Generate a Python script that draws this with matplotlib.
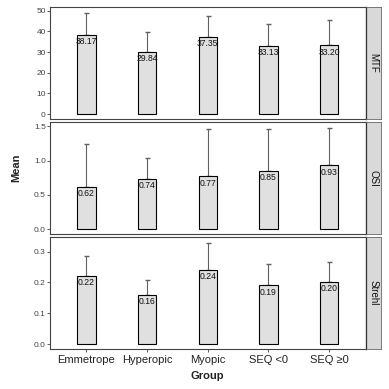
import matplotlib
matplotlib.use("Agg")
import matplotlib.pyplot as plt
import numpy as np

plt.rcParams['font.family'] = ['Liberation Sans', 'DejaVu Sans']

groups = ["Emmetrope", "Hyperopic", "Myopic", "SEQ <0", "SEQ \u22650"]
mtf_mean = [38.17, 29.84, 37.35, 33.13, 33.20]
mtf_upper = [48.7, 39.7, 47.6, 43.4, 45.5]
osi_mean = [0.62, 0.74, 0.77, 0.85, 0.93]
osi_upper = [1.247, 1.04, 1.466, 1.46, 1.477]
strehl_mean = [0.22, 0.16, 0.24, 0.19, 0.20]
strehl_upper = [0.284, 0.208, 0.329, 0.259, 0.267]

panels = [
    ("MTF", mtf_mean, mtf_upper, (-2.4, 51.8), [0, 10, 20, 30, 40, 50], "{:.0f}"),
    ("OSI", osi_mean, osi_upper, (-0.069, 1.564), [0.0, 0.5, 1.0, 1.5], "{:.1f}"),
    ("Strehl", strehl_mean, strehl_upper, (-0.016, 0.347), [0.0, 0.1, 0.2, 0.3], "{:.1f}"),
]

W = H = 389
fig = plt.figure(figsize=(W / 100, H / 100), dpi=100)

left, right_ax, right_strip = 50, 365.5, 381
tops = [7, 122, 237]
ph = 112
x = np.arange(len(groups))

for i, (name, means, uppers, ylim, ticks, fmt) in enumerate(panels):
    top = tops[i]
    bottom_px = top + ph
    ax = fig.add_axes([left / W, (H - bottom_px) / H, (right_ax - left) / W, ph / H])
    ax.bar(x, means, width=0.3, color="#e0e0e0", edgecolor="black", linewidth=0.8, zorder=2)
    err = np.array(uppers) - np.array(means)
    ax.errorbar(x, means, yerr=[np.zeros_like(err), err], fmt="none",
                ecolor="#606060", elinewidth=0.8, capsize=1.8, capthick=1.0, zorder=1)
    for xi, m in zip(x, means):
        ax.annotate(f"{m:.2f}", (xi, m), xytext=(0, -1.5), textcoords="offset points",
                    ha="center", va="top", fontsize=6.2, color="#111111", zorder=3)
    ax.set_xlim(-0.6, 4.6)
    ax.set_ylim(*ylim)
    ax.set_yticks(ticks)
    ax.set_yticklabels([fmt.format(t) for t in ticks], fontsize=6, color="#444444")
    ax.tick_params(axis="y", length=2, width=0.6, color="#444444", pad=1)
    for sp in ax.spines.values():
        sp.set_color("#444444")
        sp.set_linewidth(0.8)
    if i < 2:
        ax.set_xticks([])
    else:
        ax.set_xticks(x)
        ax.set_xticklabels(groups, fontsize=8, color="#222222")
        ax.tick_params(axis="x", length=2, width=0.6, color="#444444", pad=2)
    # strip
    sax = fig.add_axes([right_ax / W, (H - bottom_px) / H, (right_strip - right_ax) / W, ph / H])
    sax.set_facecolor("#d9d9d9")
    sax.set_xticks([])
    sax.set_yticks([])
    for sp in sax.spines.values():
        sp.set_color("#666666")
        sp.set_linewidth(0.6)
    sax.spines["left"].set_color("#333333")
    sax.spines["left"].set_linewidth(0.9)
    sax.text(0.5, 0.5, name, rotation=-90, ha="center", va="center",
             fontsize=7, color="#111111", transform=sax.transAxes)

fig.text(16 / W, 1 - 168 / H, "Mean", rotation=90, ha="center", va="center",
         fontsize=8, fontweight="bold", color="#222222")
fig.text(207 / W, 1 - 376 / H, "Group", ha="center", va="center",
         fontsize=8, fontweight="bold", color="#222222")

fig.savefig("out.png", dpi=100, facecolor="white")
